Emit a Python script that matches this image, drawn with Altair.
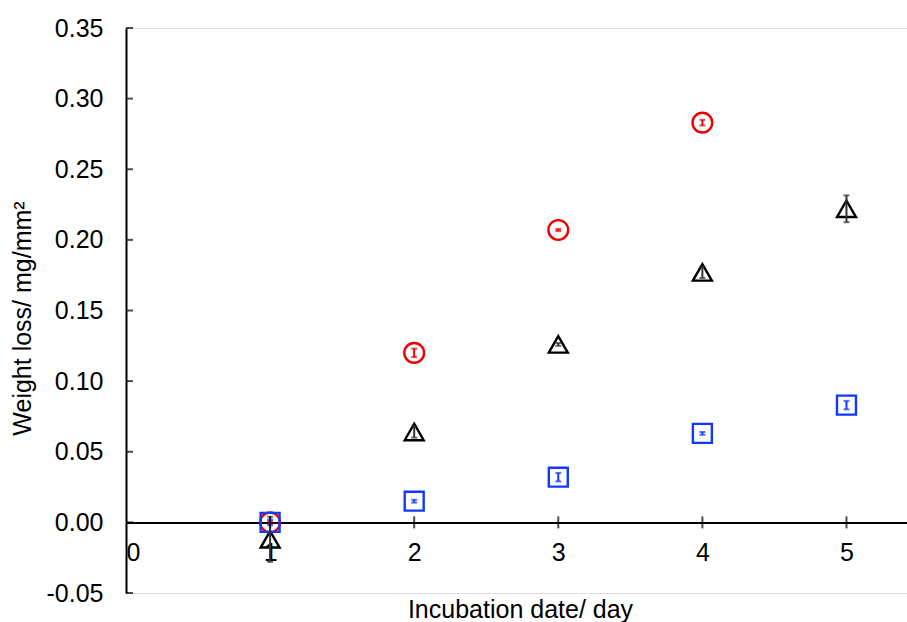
import altair as alt
import pandas as pd

# Red circles
circ_days = [1, 2, 3, 4]
circ_vals = [0.000, 0.120, 0.207, 0.283]
circ_err = [0.001, 0.003, 0.0007, 0.002]

# Black triangles
tri_days = [1, 2, 3, 4, 5]
tri_vals = [-0.012, 0.064, 0.126, 0.177, 0.222]
tri_err = [0.016, 0.004, 0.001, 0.004, 0.0095]

# Blue squares
sq_days = [1, 2, 3, 4, 5]
sq_vals = [0.000, 0.015, 0.032, 0.063, 0.083]
sq_err = [0.002, 0.001, 0.003, 0.001, 0.003]

x_ticks = [0, 1, 2, 3, 4, 5]
y_ticks = [-0.05, 0.0, 0.05, 0.10, 0.15, 0.20, 0.25, 0.30, 0.35]

RED = "#ee0000"
BLUE = "#1238ff"
BLACK = "#000000"
FONT = "Liberation Sans"
FS = 25

def frame(d, v, e, name):
    return pd.DataFrame({
        "day": d, "val": v,
        "lo": [a - b for a, b in zip(v, e)],
        "hi": [a + b for a, b in zip(v, e)],
        "s": name,
    })

circ = frame(circ_days, circ_vals, circ_err, "circle")
tri = frame(tri_days, tri_vals, tri_err, "triangle")
sq = frame(sq_days, sq_vals, sq_err, "square")

xs = alt.Scale(domain=[0, 5.42], nice=False, zero=False)
ys = alt.Scale(domain=[-0.05, 0.35], nice=False, zero=False)

xenc = alt.X("day:Q", scale=xs, axis=alt.Axis(
    values=x_ticks, format="d", orient="bottom", offset=-70.6,
    domain=True, domainColor=BLACK, domainWidth=2, ticks=False, grid=False,
    labelFont=FONT, labelFontSize=FS, labelColor=BLACK, labelPadding=18,
    labelBaseline="top",
    title="Incubation date/ day", titleFont=FONT, titleFontSize=FS,
    titleFontWeight="normal", titleColor=BLACK, titleX=394, titleY=87,
    titleBaseline="middle", titleAlign="center"))
yenc = alt.Y("val:Q", scale=ys, axis=alt.Axis(
    values=y_ticks, orient="left",
    labelExpr="datum.value < 0 ? '-' + format(-datum.value, '.2f') : format(datum.value, '.2f')",
    domain=True, domainColor=BLACK, domainWidth=2, ticks=False, grid=False,
    labelFont=FONT, labelFontSize=FS, labelColor=BLACK, labelPadding=23,
    title="Weight loss/ mg/mm²", titleFont=FONT, titleFontSize=FS,
    titleFontWeight="normal", titleColor=BLACK, titleX=-104, titleY=290,
    titleAngle=270, titleAlign="center", titleBaseline="middle"))

def points(df, shape, color, size):
    return alt.Chart(df).mark_point(shape=shape, filled=False, color=color,
                                    size=size, strokeWidth=2.4, opacity=1).encode(
        x=xenc, y=yenc)

def errbars(df, color):
    rule = alt.Chart(df).mark_rule(color=color, strokeWidth=2).encode(
        x=alt.X("day:Q", scale=xs), y=alt.Y("lo:Q", scale=ys), y2="hi:Q")
    cap_lo = alt.Chart(df).mark_tick(orient="horizontal", size=6, thickness=2,
                                     color=color).encode(
        x=alt.X("day:Q", scale=xs), y=alt.Y("lo:Q", scale=ys))
    cap_hi = alt.Chart(df).mark_tick(orient="horizontal", size=6, thickness=2,
                                     color=color).encode(
        x=alt.X("day:Q", scale=xs), y=alt.Y("hi:Q", scale=ys))
    return rule + cap_lo + cap_hi

xt = alt.Chart(pd.DataFrame({"v": x_ticks[1:]})).mark_tick(
    orient="vertical", size=12, thickness=2, color=BLACK).encode(
    x=alt.X("v:Q", scale=xs), y=alt.Y("z:Q", scale=ys)
).transform_calculate(z="0")

yt = alt.Chart(pd.DataFrame({"v": y_ticks})).mark_tick(
    orient="horizontal", size=7, thickness=2, color=BLACK, xOffset=3.5).encode(
    y=alt.Y("v:Q", scale=ys), x=alt.X("z:Q", scale=xs)
).transform_calculate(z="0")

chart = alt.layer(
    points(tri, "triangle-up", BLACK, 360),
    points(circ, "circle", RED, 390),
    points(sq, "square", BLUE, 360),
    errbars(tri, "#333333"),
    errbars(circ, RED),
    errbars(sq, BLUE),
    xt, yt,
).properties(
    width=781, height=565,
    autosize=alt.AutoSizeParams(type="none"),
    padding={"left": 126, "top": 28, "right": 0, "bottom": 29},
).configure_view(stroke=None).configure(background="white")

chart.save("out.html", embed_options={"renderer": "svg", "actions": False})
